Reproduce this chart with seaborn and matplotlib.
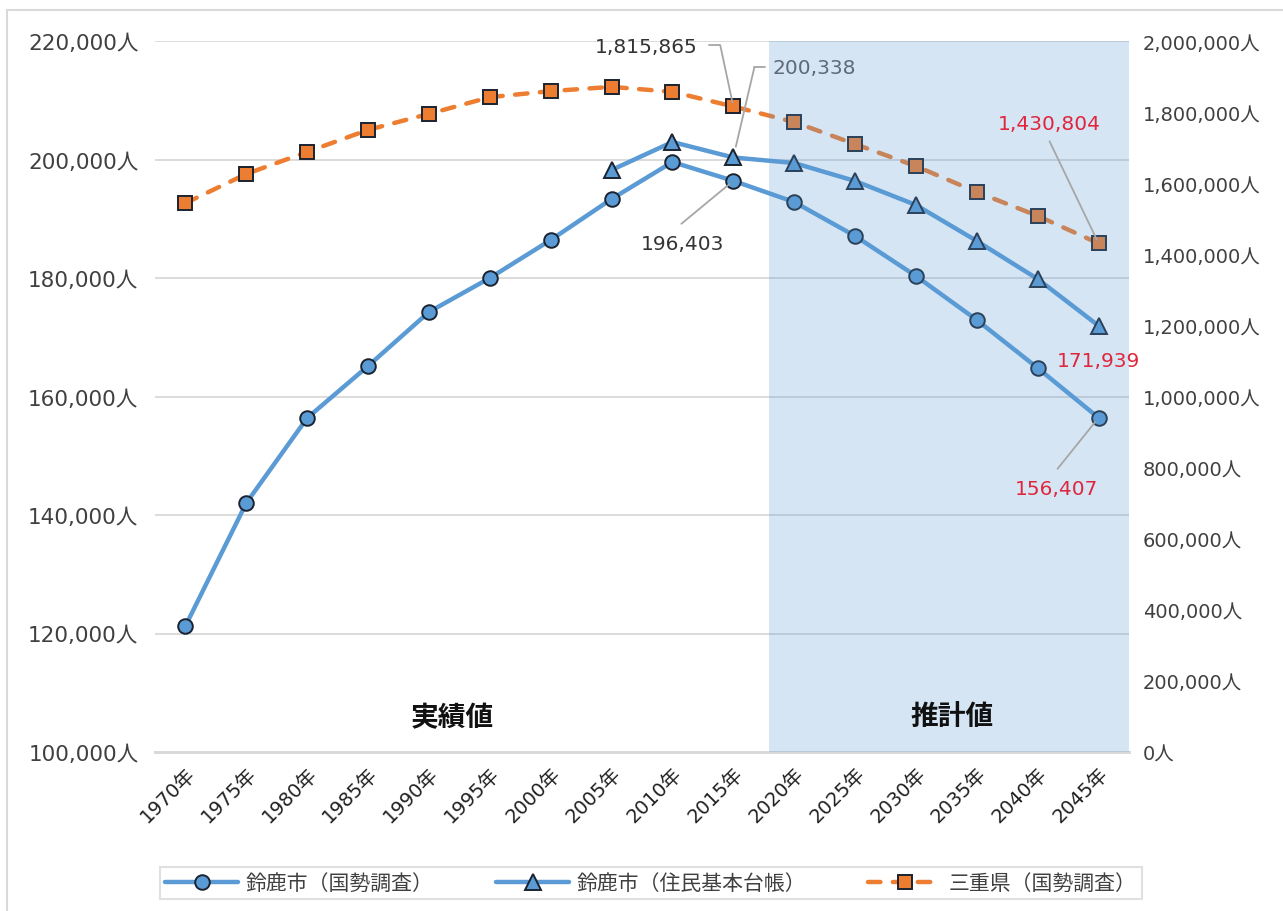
import numpy as np
import pandas as pd
import matplotlib
matplotlib.use("Agg")
import matplotlib.pyplot as plt
import seaborn as sns
from matplotlib.ticker import FuncFormatter
from matplotlib.lines import Line2D

# ---------------- data ----------------
years = [1970, 1975, 1980, 1985, 1990, 1995, 2000, 2005, 2010, 2015,
         2020, 2025, 2030, 2035, 2040, 2045]
year_labels = [f"{y}年" for y in years]

suzuka_census = [121266, 142025, 156371, 165148, 174262, 180000, 186413, 193333,
                 199578, 196403, 192827, 187089, 180338, 172911, 164810, 156407]
suzuka_resident = [np.nan, np.nan, np.nan, np.nan, np.nan, np.nan, np.nan, 198228,
                   202954, 200338, 199409, 196371, 192320, 186245, 179831, 171939]
mie_census = [1544000, 1626000, 1688000, 1750000, 1795000, 1842000, 1859000, 1871000,
              1857000, 1815865, 1772000, 1710000, 1648000, 1575000, 1508000, 1430804]

series_names = ["鈴鹿市（国勢調査）", "鈴鹿市（住民基本台帳）", "三重県（国勢調査）"]
left_ticks = [100000, 120000, 140000, 160000, 180000, 200000, 220000]
right_ticks = [0, 200000, 400000, 600000, 800000, 1000000, 1200000,
               1400000, 1600000, 1800000, 2000000]
projection_start = 9.58  # category position where the projection band begins

# ---------------- style ----------------
sns.set_theme(style="white")
plt.rcParams["font.family"] = ["DejaVu Sans", "Noto Sans CJK JP"]

BLUE = "#5B9BD5"
ORANGE = "#ED7D31"
EDGE = "#1B2330"
TXT = "#404040"
GRID = "#D9D9D9"
LEAD = "#A6A6A6"
RED = "#E0263C"

fig = plt.figure(figsize=(12.83, 9.12), dpi=100)
W, H = 1283, 912
ax = fig.add_axes([155 / W, 1 - 753 / H, (1129 - 155) / W, (753 - 42) / H])
ax2 = ax.twinx()

x = np.arange(len(years))
df = pd.DataFrame({"x": x, "census": suzuka_census,
                   "resident": suzuka_resident, "mie": mie_census})

sns.lineplot(data=df, x="x", y="census", ax=ax, color=BLUE, linewidth=3.2,
             marker="o", markersize=10.5, markerfacecolor=BLUE,
             markeredgecolor=EDGE, markeredgewidth=1.4, label=series_names[0], zorder=3)
sns.lineplot(data=df.dropna(), x="x", y="resident", ax=ax, color=BLUE, linewidth=3.2,
             marker="^", markersize=11, markerfacecolor=BLUE,
             markeredgecolor=EDGE, markeredgewidth=1.4, label=series_names[1], zorder=3)
sns.lineplot(data=df, x="x", y="mie", ax=ax2, color=ORANGE, linewidth=3.2,
             linestyle=(0, (2.8, 2.8)), dash_capstyle="round",
             marker="s", markersize=9.5, markerfacecolor=ORANGE,
             markeredgecolor=EDGE, markeredgewidth=1.4, label=series_names[2], zorder=3)

# axes limits / ticks
ax.set_xlim(-0.5, len(years) - 0.5)
ax.set_ylim(left_ticks[0], left_ticks[-1])
ax2.set_ylim(right_ticks[0], right_ticks[-1])
ax.set_yticks(left_ticks)
ax2.set_yticks(right_ticks)
fmt = FuncFormatter(lambda v, p: f"{int(v):,}人")
ax.yaxis.set_major_formatter(fmt)
ax2.yaxis.set_major_formatter(fmt)
ax.set_xticks(x)
ax.set_xticklabels(year_labels, rotation=45, ha="right", rotation_mode="anchor")
ax.set_xlabel("")
ax.set_ylabel("")
ax2.set_ylabel("")
ax.tick_params(axis="x", length=0, pad=8, labelsize=14, labelcolor="#202020")
ax.tick_params(axis="y", length=0, pad=12, labelsize=15.5, labelcolor=TXT)
ax2.tick_params(axis="y", length=0, pad=10, labelsize=14, labelcolor=TXT)

ax.grid(axis="y", color=GRID, linewidth=1.3)
ax.set_axisbelow(True)
for a in (ax, ax2):
    for s in ("left", "right", "top"):
        a.spines[s].set_visible(False)
    a.spines["bottom"].set_color(GRID)
    a.spines["bottom"].set_linewidth(2)
    if a.get_legend() is not None:
        a.get_legend().remove()

# projection band (semi-transparent overlay)
ax2.axvspan(projection_start, len(years) - 0.5, color=BLUE, alpha=0.25,
            linewidth=0, zorder=5)

# band labels
for xpos, txt in ((4.39, "実績値"), (12.59, "推計値")):
    ax2.text(xpos, 0.049, txt, transform=ax2.get_xaxis_transform(),
             ha="center", va="center", fontsize=20, fontweight="bold",
             family=["Noto Sans CJK JP"], color="#111111", zorder=10)

# ---------------- annotations ----------------
def label(axis_from, xy, text, off, color, ha="center"):
    ax2.annotate(text, xy=xy, xycoords=axis_from.transData, xytext=off,
                 textcoords="offset pixels", ha=ha, va="center", fontsize=14.5,
                 color=color, zorder=11, annotation_clip=False)


def leader(axis_from, xy, off, shrinkB=4):
    ax2.annotate("", xy=xy, xycoords=axis_from.transData, xytext=off,
                 textcoords="offset pixels", annotation_clip=False,
                 arrowprops=dict(arrowstyle="-", color=LEAD, lw=1.3,
                                 shrinkA=0, shrinkB=shrinkB), zorder=9)


def hpiece(axis_from, xy, dx0, dx1, dy):
    tp = axis_from.transData.transform(xy)
    fig.add_artist(Line2D([(tp[0] + dx0) / W, (tp[0] + dx1) / W],
                          [(tp[1] + dy) / H, (tp[1] + dy) / H],
                          transform=fig.transFigure, color=LEAD, lw=1.3, zorder=9))


i15 = years.index(2015)
i45 = years.index(2045)

# 1,815,865 (Mie 2015)
p = (i15, mie_census[i15])
label(ax2, p, f"{mie_census[i15]:,}", (-87, 60), "#333333")
leader(ax2, p, (-13, 61), shrinkB=3)
hpiece(ax2, p, -24, -13, 61)

# 200,338 (resident 2015)
p = (i15, suzuka_resident[i15])
label(ax, p, f"{suzuka_resident[i15]:,}", (39, 90), "#5E6A78", ha="left")
leader(ax, p, (21, 90), shrinkB=8)
hpiece(ax, p, 21, 32, 90)

# 196,403 (census 2015)
p = (i15, suzuka_census[i15])
label(ax, p, f"{suzuka_census[i15]:,}", (-51, -63), "#333333")
leader(ax, p, (-52, -43))

# 1,430,804 (Mie 2045)
p = (i45, mie_census[i45])
label(ax2, p, f"{mie_census[i45]:,}", (-49, 120), RED)
leader(ax2, p, (-49, 102), shrinkB=3)

# 171,939 (resident 2045)
p = (i45, suzuka_resident[i45])
label(ax, p, f"{suzuka_resident[i45]:,}", (0, -35), RED)

# 156,407 (census 2045)
p = (i45, suzuka_census[i45])
label(ax, p, f"{suzuka_census[i45]:,}", (-42, -71), RED)
leader(ax, p, (-41, -51))

# ---------------- legend ----------------
h1, l1 = ax.get_legend_handles_labels()
h2, l2 = ax2.get_legend_handles_labels()
leg = fig.legend(h1 + h2, l1 + l2, loc="center", bbox_to_anchor=(651 / W, 1 - 884 / H),
                 ncol=3, frameon=True, fancybox=False, edgecolor=GRID,
                 prop={"family": ["Noto Sans CJK JP"], "size": 15},
                 handlelength=3.5, columnspacing=3.0, handletextpad=0.35,
                 borderpad=0.25, borderaxespad=0, labelcolor="#404040")
leg.get_frame().set_linewidth(1.5)

# outer chart border (left/top visible)
fig.add_artist(Line2D([7 / W, 7 / W], [0, 1 - 11 / H], transform=fig.transFigure,
                      color=GRID, lw=1.5))
fig.add_artist(Line2D([7 / W, 1], [1 - 11 / H, 1 - 11 / H], transform=fig.transFigure,
                      color=GRID, lw=1.5))

fig.savefig("out.png", dpi=100)
